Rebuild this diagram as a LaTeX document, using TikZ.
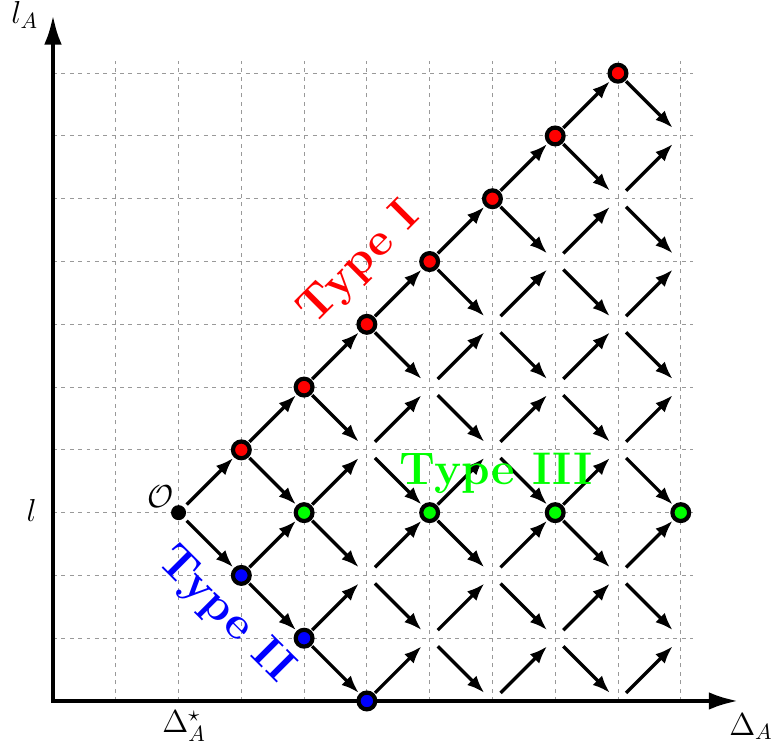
\documentclass[tikz,border=0pt]{standalone}
\usepackage{amsmath,amssymb}
\usetikzlibrary{arrows.meta}

\begin{document}
\begin{tikzpicture}[every node/.style={font=\Large},
    pt/.style={circle,minimum size=0.35cm,inner sep=0pt},
    dot/.style={circle,draw=black,line width=1.9pt,minimum size=7.6pt,inner sep=0pt},
    move/.style={-{Latex[length=8pt,width=6pt]},line width=1.5pt},
    axis/.style={{Latex[length=13.5pt,width=8pt]}-{Latex[length=13.5pt,width=8pt]},line width=2pt},
    lbl/.style={font=\huge\bfseries}]
  \useasboundingbox (-0.844,-0.765) rectangle (11.453,11.166);
  \draw[gray!80,line width=0.45pt,dash pattern=on 1.8pt off 2pt] (0,0) grid (10.2,10.2);
  \coordinate (orig) at (0,0);
  \coordinate (xend) at (10.92,0);
  \coordinate (yend) at (0,10.93);
  \draw[axis] (yend) -- (orig) -- (xend);
  \node (lA) at (-0.45,10.93) {$l_A$};
  \node (l) at (-0.34,3.04) {$l$};
  \node (dA) at (11.12,-0.41) {$\Delta_A$};
  \node (dAstar) at (2.09,-0.40) {$\Delta_A^\star$};
  \foreach \x in {2,...,10}
    \foreach \y in {0,...,10}{
      \pgfmathtruncatemacro\ok{and(abs(\y-3)<\x-1,isodd(\x+\y))}
      \ifnum\ok=1 \node[pt] (p\x-\y) at (\x,\y) {}; \fi
    }
  \foreach \x in {2,...,9}
    \foreach \y in {0,...,10}{
      \pgfmathtruncatemacro\ok{and(abs(\y-3)<\x-1,isodd(\x+\y))}
      \pgfmathtruncatemacro\xn{\x+1}
      \pgfmathtruncatemacro\yu{\y+1}
      \pgfmathtruncatemacro\yd{\y-1}
      \ifnum\ok=1
        \ifnum\y<10 \draw[move] (p\x-\y) -- (p\xn-\yu); \fi
        \ifnum\y>0 \draw[move] (p\x-\y) -- (p\xn-\yd); \fi
      \fi
    }
  \foreach \x/\y in {3/4,4/5,5/6,6/7,7/8,8/9,9/10}
    \node[dot,fill=red] (red\x) at (p\x-\y) {};
  \foreach \x/\y in {3/2,4/1,5/0}
    \node[dot,fill=blue] (blue\x) at (p\x-\y) {};
  \foreach \x in {4,6,8,10}
    \node[dot,fill=green] (green\x) at (p\x-3) {};
  \node[circle,fill=black,minimum size=6.8pt,inner sep=0pt] (o) at (p2-3) {};
  \node (oLabel) at (1.71,3.25) {$\mathcal{O}$};
  \node[lbl,text=red,rotate=45] (typeI) at (4.89,6.96) {Type I};
  \node[lbl,text=blue,rotate=-45] (typeII) at (2.74,1.37) {Type II};
  \node[lbl,text=green] (typeIII) at (7.06,3.62) {Type III};
\end{tikzpicture}
\end{document}
